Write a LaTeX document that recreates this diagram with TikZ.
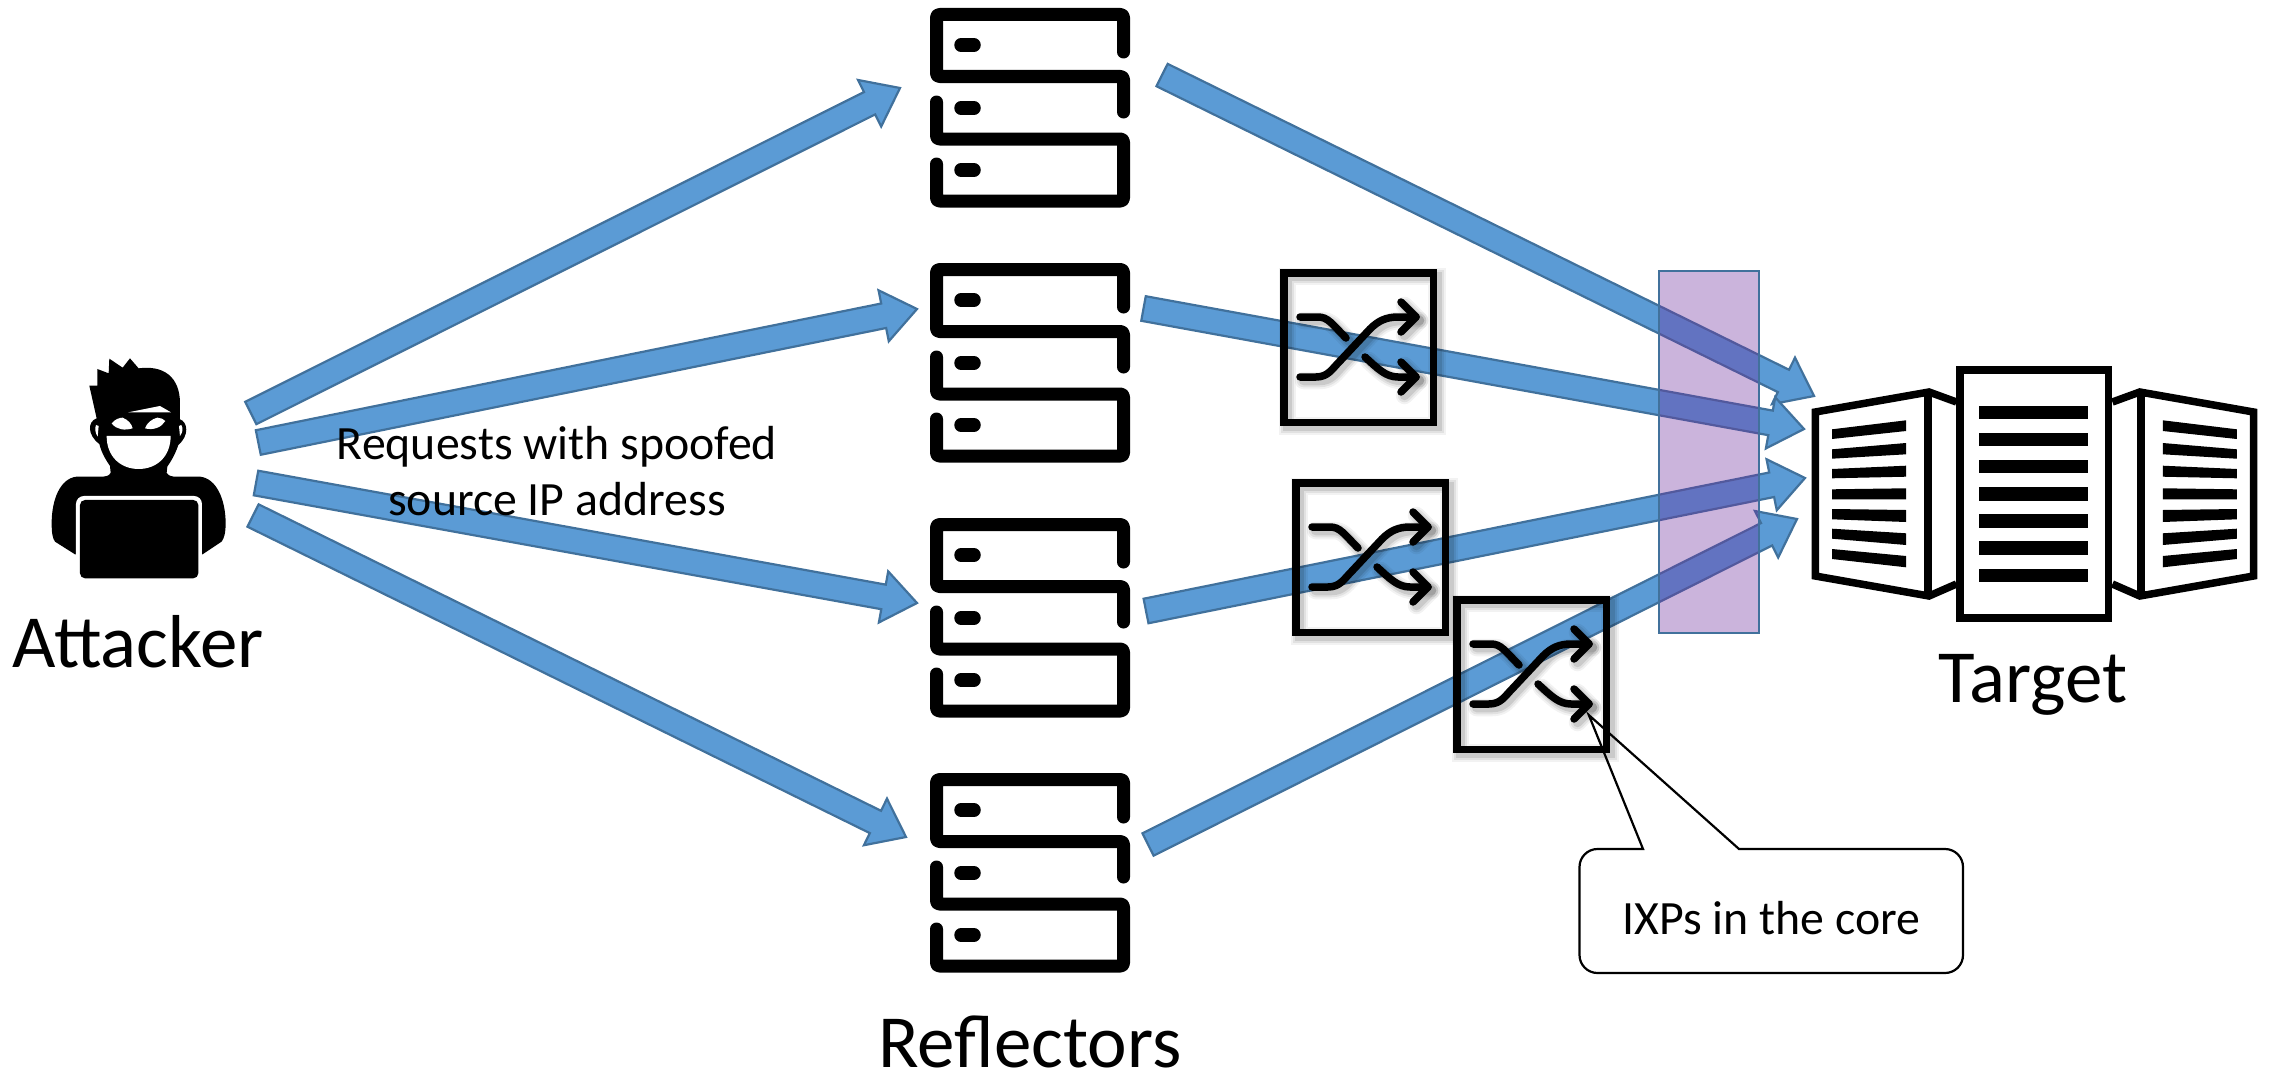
\documentclass[tikz,border=0pt]{standalone}
\usepackage{fontspec}
\setmainfont{Carlito}
\usepackage{xcolor}
\usetikzlibrary{calc, positioning}

\definecolor{flowblue}{HTML}{5B9BD5}
\definecolor{flowedge}{HTML}{41719C}
\definecolor{corepurple}{HTML}{7030A0}

\newcommand{\ixpsymbol}[1]{
    \draw[#1] (3.75,3.75) rectangle (153.25,153.25);
    \draw[#1, line cap=round, line join=round] (20,48) -- (38,48) .. controls (48,48) and (52,55) .. (66,69);
    \draw[#1, line cap=round, line join=round] (20,108) -- (36,108) .. controls (48,108) and (52,100) .. (60,92) -- (90,60) .. controls (98,52) and (106,48) .. (118,48) -- (136,48);
    \draw[#1, line cap=round, line join=round] (121,33) -- (136,48) -- (121,63);
    \draw[#1, line cap=round, line join=round] (85,88) .. controls (98,100) and (106,108) .. (118,108) -- (136,108);
    \draw[#1, line cap=round, line join=round] (121,93) -- (136,108) -- (121,123);
}

\tikzset{
    biglabel/.style={font=\fontsize{75}{75}\selectfont, inner sep=0pt, anchor=base},
    smalllabel/.style={font=\fontsize{47.8}{56}\selectfont, inner sep=0pt, align=center},
    fatarrow/.style={draw=flowedge, fill=flowblue, line width=2.2pt,
        to path={let \p1=($(\tikztotarget)-(\tikztostart)$), \n1={atan2(\y1,\x1)}, \n2={veclen(\x1,\y1)} in
            -- ++(\n1-90:12.5pt) -- ++(\n1:\n2-34pt) -- ++(\n1-90:13.5pt) -- (\tikztotarget)
            -- ++(\n1+142.6:42.8pt) -- ++(\n1-90:13.5pt) -- ++(\n1+180:\n2-34pt) -- cycle}},
    rackline/.style={line width=13pt, line cap=round, line join=round, rounded corners=3pt},
    ixp/.pic={
        \foreach \sw/\so in {10/.05, 6/.07, 2/.10}
            {\begin{scope}[shift={(3.5,3.5)}]\ixpsymbol{line width=7.5pt+\sw pt, black, opacity=\so}\end{scope}}
        \ixpsymbol{line width=7.5pt, black}
    },
    reflector/.pic={
        \draw[rackline] (1123.5,52) -- (1123.5,14.5) -- (936.5,14.5) -- (936.5,76.5) -- (1123.5,76.5) -- (1123.5,112);
        \draw[rackline] (936.5,102) -- (936.5,139) -- (1123.5,139) -- (1123.5,201) -- (936.5,201) -- (936.5,164);
        \foreach \dy in {45,108,170}
            \draw[line width=13.5pt, line cap=round] (961,\dy) -- (974,\dy);
    },
    sidepage/.pic={
        \draw[line width=7.5pt, line join=miter] (1956.4,402) -- (1929,392) -- (1815.3,412) -- (1815.3,576) -- (1929,596) -- (1956.4,584);
        \draw[line width=8.5pt] (1928,392) -- (1928,596);
        \foreach \lt/\lb/\rt/\rb in {429.3/439/420.3/431, 449.3/458.7/443/454.3, 469/478.3/465.7/476.7,
            489.3/499.3/488.3/499.3, 509/519.3/510/522, 528.7/538.7/533.3/545, 549/559/556/567.3}
            \fill (1832,\lt) -- (1906,\rt) -- (1906,\rb) -- (1832,\lb) -- cycle;
    }
}

\begin{document}
\begin{tikzpicture}[x=1pt, y=-1pt]
    \useasboundingbox (0,0) rectangle (2272,1073);

    % attacker figure, traced
    \begin{scope}[shift={(0,320)}, x=0.3333pt, y=-0.3333pt]
        \fill (290,295) -- (268,197) -- (292,197) -- (292,147) -- (326,160) -- (328,116) -- (368,143) -- (390,115) -- (416,145)
            .. controls (490,135) and (540,170) .. (540,250) -- (540,298)
            .. controls (562,305) and (570,345) .. (535,375)
            .. controls (525,405) and (512,425) .. (502,440) -- (500,458) .. controls (505,468) and (515,470) .. (530,470)
            -- (600,470) .. controls (650,475) and (677,540) .. (677,610) .. controls (677,640) and (672,655) .. (665,665)
            -- (608,703) -- (225,703) -- (165,665) .. controls (158,655) and (155,640) .. (155,610)
            .. controls (155,540) and (180,475) .. (230,470) -- (300,470) .. controls (318,470) and (328,468) .. (332,458) -- (330,438)
            .. controls (318,420) and (305,400) .. (298,372) .. controls (262,345) and (262,305) .. (290,295) -- cycle;
        \fill[white] (320,348) -- (512,348) .. controls (512,410) and (470,447) .. (416,447) .. controls (362,447) and (320,410) .. (320,348) -- cycle;
        \fill[white] (335,310) .. controls (345,298) and (358,293) .. (368,293) .. controls (385,300) and (395,312) .. (398,325) .. controls (375,332) and (350,330) .. (335,310) -- cycle;
        \fill[white] (435,325) .. controls (440,310) and (455,297) .. (472,293) .. controls (482,293) and (490,297) .. (496,303) .. controls (485,322) and (460,332) .. (435,325) -- cycle;
        \fill[white] (385,277) -- (480,258) -- (513,277) -- cycle;
        \fill[white] (288,315) .. controls (284,325) and (286,340) .. (293,350) -- (296,318) -- cycle;
        \fill[white] (544,315) .. controls (550,325) and (548,338) .. (540,348) -- (537,318) -- cycle;
        \fill[white, rounded corners=8pt] (228,528) rectangle (606,780);
        \fill[rounded corners=5pt] (240,540) rectangle (595,775);
    \end{scope}

    % reflectors
    \foreach \sy/\sname in {0/a, 255/b, 510/c, 765/d}
        \pic (rack\sname) at (0,\sy) {reflector};

    % blue flows
    \coordinate (req1a) at (250.8,413);
    \coordinate (req1b) at (900,88);
    \coordinate (req2a) at (258.3,442.5);
    \coordinate (req2b) at (917,309);
    \coordinate (req3a) at (256,483);
    \coordinate (req3b) at (917,603);
    \coordinate (req4a) at (253,515.5);
    \coordinate (req4b) at (906,837);
    \coordinate (rep1a) at (1162,75);
    \coordinate (rep1b) at (1814,396);
    \coordinate (rep2a) at (1143.5,308.5);
    \coordinate (rep2b) at (1804,429);
    \coordinate (rep3a) at (1146,611);
    \coordinate (rep3b) at (1805,478);
    \coordinate (rep4a) at (1148,844.5);
    \coordinate (rep4b) at (1797,519);
    \foreach \flow in {req1, req2, req3, req4, rep1, rep2, rep3, rep4}
        \draw[fatarrow] (\flow a) to (\flow b);

    % core band
    \draw[draw=flowedge, line width=2pt, fill=corepurple, fill opacity=0.364] (1659.3,271) rectangle (1759.3,633);

    % IXP switches
    \pic (ixpa) at (1280,269) {ixp};
    \pic (ixpb) at (1292,479) {ixp};
    \pic (ixpc) at (1453,596) {ixp};

    % target
    \draw[line width=7.5pt] (1960,370) rectangle (2108.5,618);
    \foreach \by in {406,433,460,487.3,514.3,541.3,568.5}
        \fill (1979.4,\by) rectangle (2088.2,\by+13.3);
    \pic (pageleft) at (0,0) {sidepage};
    \begin{scope}[xscale=-1, xshift=-4068.8pt]
        \pic[transform shape] (pageright) at (0,0) {sidepage};
    \end{scope}

    % callout
    \draw[line width=2.2pt] (1739,849) [rounded corners=18pt] -- (1963,849) -- (1963,973) -- (1579.5,973) -- (1579.5,849) [sharp corners] -- (1643,849) -- (1588.8,715) -- cycle;

    % labels
    \node[biglabel] (attacker) at (138,667) {Attacker};
    \node[biglabel] (reflectors) at (1030,1067) {Reflectors};
    \node[biglabel] (target) at (2033,702) {Target};
    \node[smalllabel] (requests) at (557,471) {Requests with spoofed\\source IP address};
    \node[smalllabel] (ixpnote) at (1771.5,918) {IXPs in the core};
\end{tikzpicture}
\end{document}
